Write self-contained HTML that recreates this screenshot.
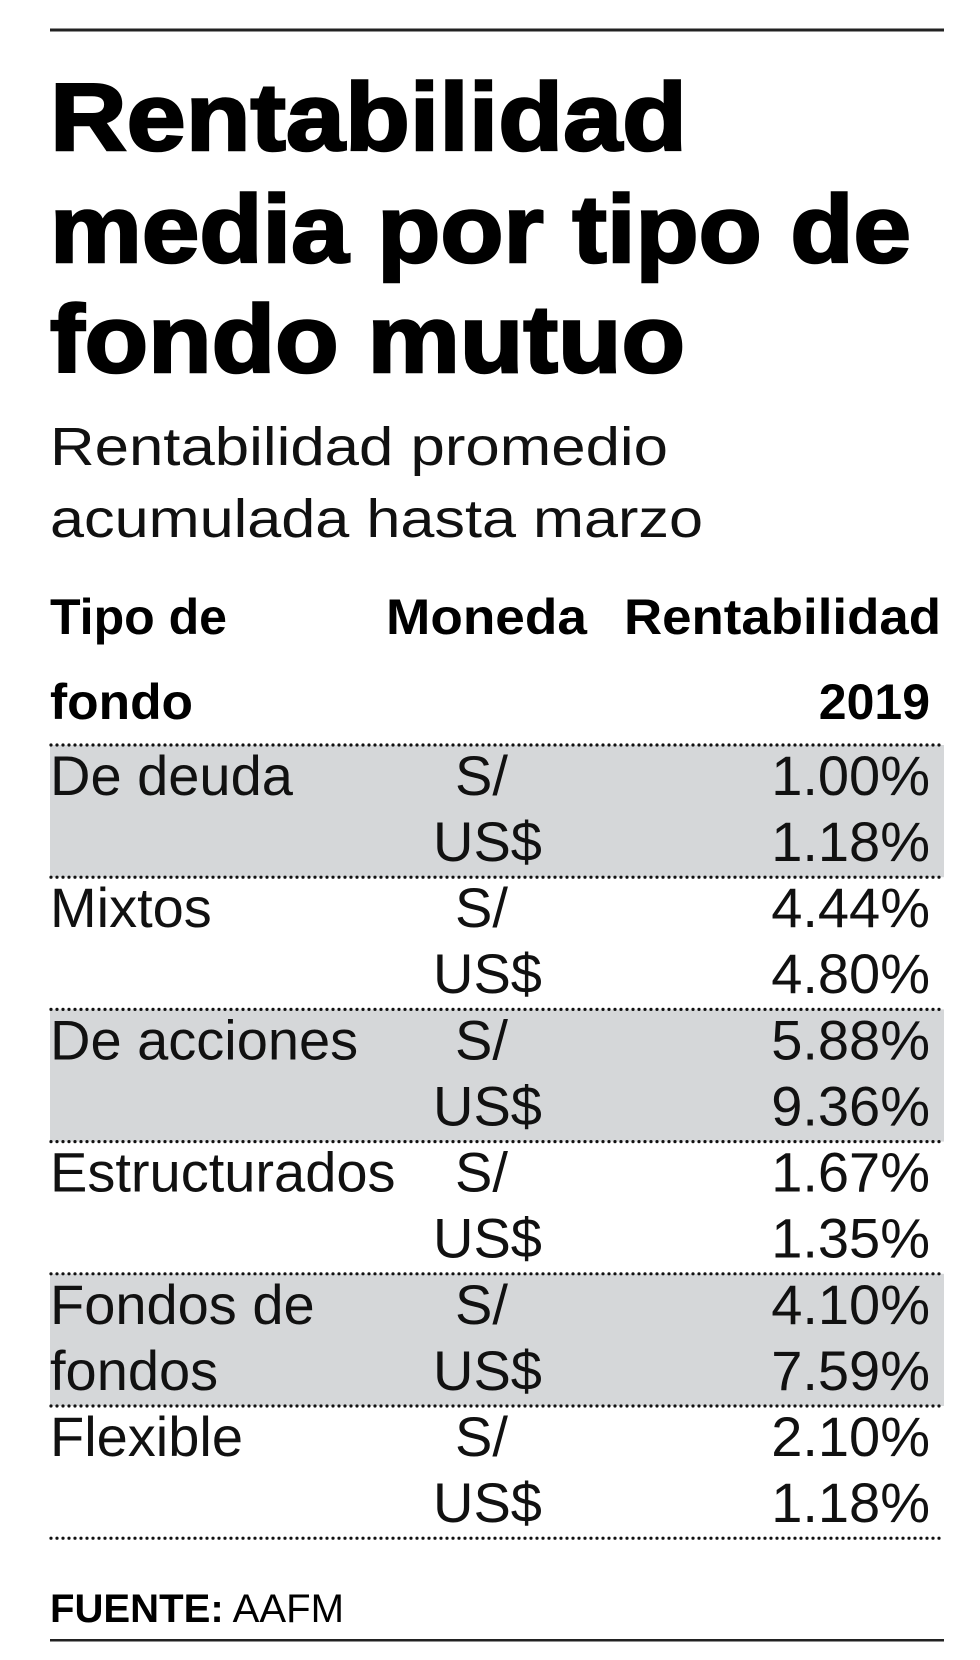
<!DOCTYPE html>
<html><head><meta charset="utf-8"><style>
html,body{margin:0;padding:0;background:#fff;}
svg{display:block;font-family:"Liberation Sans",sans-serif;}
</style></head><body>
<svg id="chart" width="980" height="1660" viewBox="0 0 980 1660" xmlns="http://www.w3.org/2000/svg">
<rect x="50" y="28.5" width="894" height="3" fill="#222"/>
<g font-weight="bold" font-size="96" fill="#000" stroke="#000" stroke-width="2.5">
<text x="50" y="150" textLength="637" lengthAdjust="spacingAndGlyphs">Rentabilidad</text>
<text x="50" y="262" textLength="861" lengthAdjust="spacingAndGlyphs">media por tipo de</text>
<text x="50" y="372" textLength="635" lengthAdjust="spacingAndGlyphs">fondo mutuo</text>
</g>
<g font-size="54" fill="#111">
<text x="50" y="465" textLength="618" lengthAdjust="spacingAndGlyphs">Rentabilidad promedio</text>
<text x="50" y="537" textLength="653" lengthAdjust="spacingAndGlyphs">acumulada hasta marzo</text>
</g>
<g font-weight="bold" font-size="50" fill="#000">
<text x="50" y="634" textLength="177" lengthAdjust="spacingAndGlyphs">Tipo de</text>
<text x="50" y="719" textLength="143" lengthAdjust="spacingAndGlyphs">fondo</text>
<text x="386" y="634" textLength="201" lengthAdjust="spacingAndGlyphs">Moneda</text>
<text x="624" y="634" textLength="317" lengthAdjust="spacingAndGlyphs">Rentabilidad</text>
<text x="930" y="719" text-anchor="end">2019</text>
</g>
<g id="rows"></g>
<g font-size="40" fill="#000">
<text x="50" y="1622" textLength="294" lengthAdjust="spacingAndGlyphs"><tspan font-weight="bold">FUENTE:</tspan> AAFM</text>
</g>
<rect x="50" y="1639" width="894" height="2.5" fill="#222"/>
</svg>
<script>
const fundTypes = [["De deuda"], ["Mixtos"], ["De acciones"], ["Estructurados"], ["Fondos de", "fondos"], ["Flexible"]];
const currencies = ["S/", "US$"];
const solesValues = [1.00, 4.44, 5.88, 1.67, 4.10, 2.10];
const dollarValues = [1.18, 4.80, 9.36, 1.35, 7.59, 1.18];
const shaded = [true, false, true, false, true, false];

const NS = "http://www.w3.org/2000/svg";
const g = document.getElementById("rows");
const top0 = 745, bandH = 132.2;
function mk(tag, attrs, text) {
  const e = document.createElementNS(NS, tag);
  for (const k in attrs) e.setAttribute(k, attrs[k]);
  if (text !== undefined) e.textContent = text;
  g.appendChild(e);
  return e;
}
fundTypes.forEach((labels, i) => {
  const y = top0 + i * bandH;
  if (shaded[i]) {
    const r = mk("rect", {x: 50, y: y, width: 894, height: bandH, fill: "#d5d7d9"});
    
    
  }
  labels.forEach((lab, j) => {
    const t = mk("text", {x: 50, y: y + 50 + j * 66, "font-size": 56, fill: "#111"}, lab);
    
    
  });
  [solesValues[i], dollarValues[i]].forEach((v, j) => {
    const cur = mk("text", {x: j === 0 ? 455 : 433, y: y + 50 + j * 66, "font-size": 56, fill: "#111"}, currencies[j]);
    
    
    const val = mk("text", {x: 930, y: y + 50 + j * 66, "font-size": 56, fill: "#111", "text-anchor": "end"}, v.toFixed(2) + "%");
    
    
  });
});
for (let i = 0; i <= fundTypes.length; i++) {
  const y = top0 + i * bandH;
  const l = mk("line", {x1: 51, x2: 944, y1: y, y2: y, stroke: "#111", "stroke-width": 3.2, "stroke-dasharray": "0 6", "stroke-linecap": "round"});
  
  
}
</script>
</body></html>
